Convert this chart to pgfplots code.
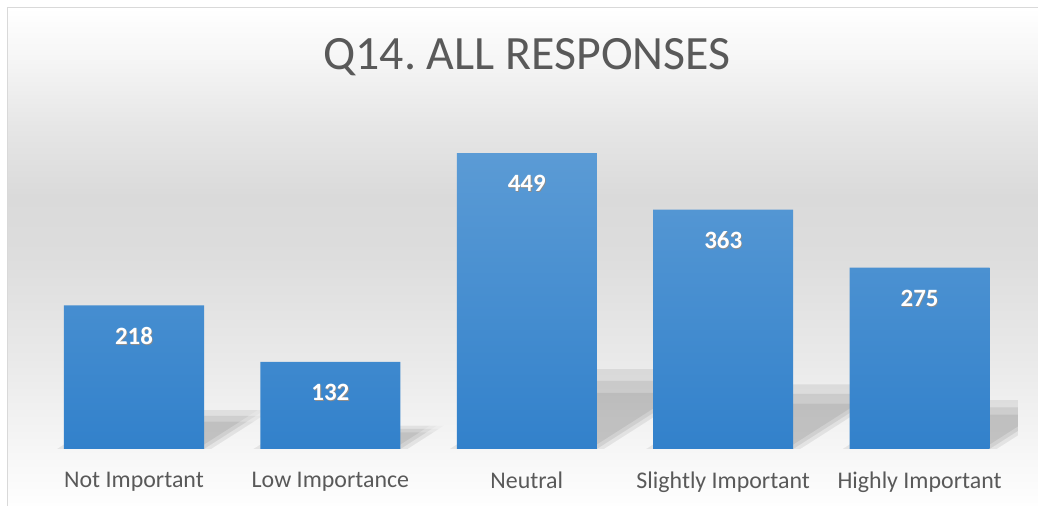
\documentclass[border=0pt]{standalone}
\usepackage{fontspec}
\setmainfont{Carlito}
\usepackage{pgfplots}
\pgfplotsset{compat=1.18}

\definecolor{txtgrey}{HTML}{595959}
\definecolor{bartop}{HTML}{5B9BD5}
\definecolor{barbot}{HTML}{3281CB}
\definecolor{framec}{HTML}{D9D9D9}
\definecolor{bgA}{HTML}{FEFEFE}
\definecolor{bgB}{HTML}{F7F7F7}
\definecolor{bgC}{HTML}{E9E9E9}
\definecolor{bgD}{HTML}{DDDDDD}
\definecolor{bgE}{HTML}{DADADA}
\definecolor{bgF}{HTML}{E6E6E6}
\definecolor{bgG}{HTML}{F6F6F6}

% bottom -> top
\pgfdeclareverticalshading{chartbg}{100bp}{
  color(0bp)=(bgA); color(25bp)=(bgA); color(30bp)=(bgB);
  color(40bp)=(bgC); color(50bp)=(bgD); color(56bp)=(bgE);
  color(63bp)=(bgF); color(70bp)=(bgG); color(75bp)=(white);
  color(100bp)=(white)}

% soft perspective shadow, built from a few faint layers
\tikzset{
  sl/.style n args={3}{preaction={shade=false, fill=black, fill opacity=0.022,
      transform canvas={xshift=#3bp, yscale=#1, xslant=#2}}},
  softshadow/.style={
    sl={0.19}{0.30}{-7}, sl={0.19}{0.30}{0}, sl={0.19}{0.30}{7},
    sl={0.23}{0.36}{-7}, sl={0.23}{0.36}{0}, sl={0.23}{0.36}{7},
    sl={0.27}{0.42}{-7}, sl={0.27}{0.42}{0}, sl={0.27}{0.42}{7}},
}

\begin{document}
\begin{tikzpicture}
% picture is 1038 x 506 bp, data origin sits at (0,0)
\useasboundingbox (-134bp,-57bp) rectangle (904bp,449bp);
\path[shading=chartbg] (-126.5bp,-57bp) rectangle (904bp,441.5bp);
\draw[framec, line width=1.5bp] (-126.5bp,-70bp) -- (-126.5bp,441.5bp) -- (920bp,441.5bp);

\node[anchor=base, text=txtgrey, font=\fontsize{48}{56}\selectfont]
  at (393bp,379bp) {Q14.\ ALL RESPONSES};

\begin{axis}[
    at={(0,0)}, anchor=origin,
    scale only axis,
    width=982bp, height=329.6bp,
    xmin=-0.5, xmax=4.5,
    ymin=0, ymax=500,
    ybar, bar width=140bp,
    axis line style={draw=none},
    tick style={draw=none},
    ytick=\empty,
    xtick={0,1,2,3,4},
    xticklabels={Not Important, Low Importance, Neutral, Slightly Important, Highly Important},
    xticklabel style={font=\fontsize{24}{28}\selectfont, text=txtgrey, yshift=-15bp},
    /pgf/number format/assume math mode=true,
    nodes near coords={\rlap{\kern0.8bp\raisebox{-0.8bp}{\color{black!45}\pgfmathprintnumber{\pgfplotspointmeta}}}\pgfmathprintnumber{\pgfplotspointmeta}},
    every node near coord/.append style={font=\bfseries\fontsize{25}{30}\selectfont,
      text=white, anchor=center, yshift=-31bp},
]
\addplot[draw=none, top color=bartop, bottom color=barbot, softshadow]
  coordinates {(0,218) (1,132) (2,449) (3,363) (4,275)};
\end{axis}
\end{tikzpicture}
\end{document}
